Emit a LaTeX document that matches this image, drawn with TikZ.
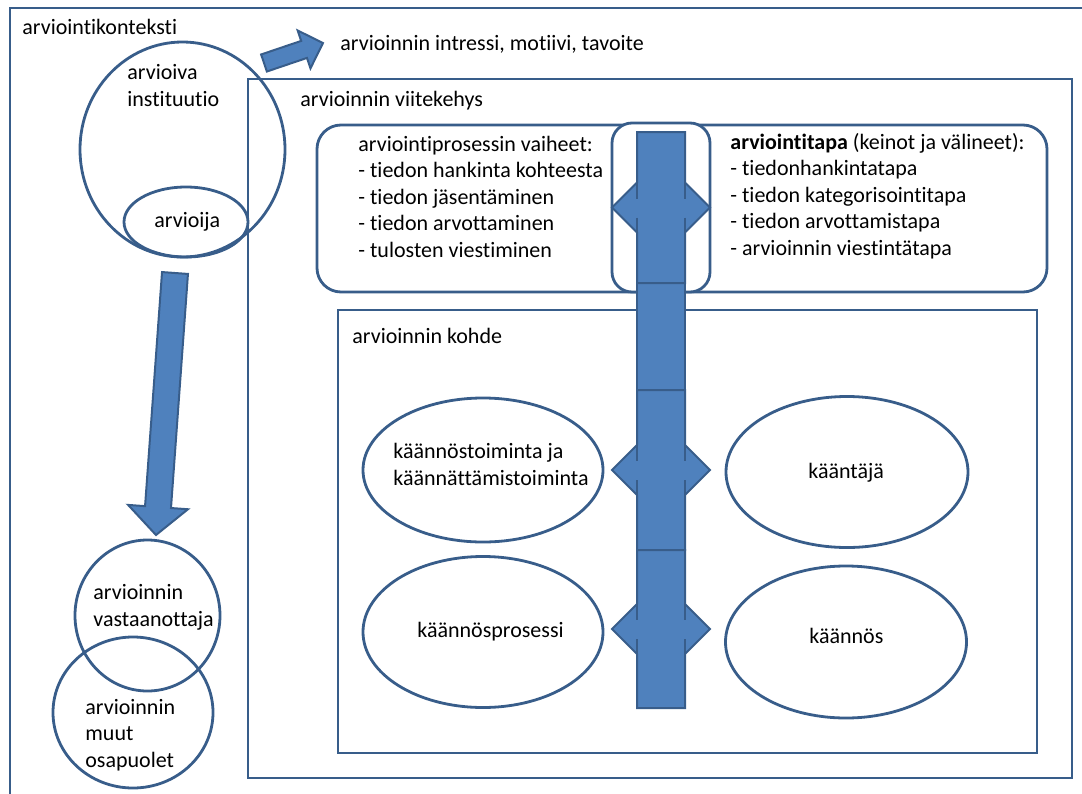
\documentclass[tikz,border=0pt]{standalone}
\usepackage{fontspec}
\setmainfont{Carlito}[Ligatures = NoCommon]
\usetikzlibrary{calc}
\usetikzlibrary{shapes.geometric}

\definecolor{lineblue}{HTML}{385D8A}
\definecolor{fillblue}{HTML}{4F81BD}

\tikzset{
  frame/.style = {draw = lineblue, line width = 1.4pt},
  ring/.style = {frame, ellipse, inner sep = 0pt},
  label/.style = {inner sep = 0pt, anchor = base west, align = left},
  blockarrow/.style = {fill = fillblue, draw = lineblue, line width = 1pt, line join = miter},
}

\begin{document}
\begin{tikzpicture}[x = 0.5pt, y = -0.5pt, font = \fontsize{11}{13.2}\selectfont]
  \useasboundingbox (0, 0) rectangle (1082, 793);
  \clip (0, 0) rectangle (1082, 793);

  % boxes
  \draw[frame] (10, 8) rectangle (1100, 810);
  \draw[frame] (248, 79) rectangle (1072, 778);
  \draw[frame, fill = white, rounded corners = 12pt] (317, 125) rectangle (1047, 292);
  \draw[frame, fill = white, rounded corners = 10pt] (612, 123) rectangle (710, 292);
  \draw[frame] (338, 310) rectangle (1037, 753);

  % circles on the left
  \node[ring, minimum width = 102.5pt, minimum height = 107.5pt] (instituutio) at (182.5, 149.5) {};
  \node[ring, minimum width = 62pt, minimum height = 35pt] (arvioija) at (186, 222) {};
  \node[ring, minimum width = 72.5pt, minimum height = 75.5pt] (vastaanottaja) at (147.5, 615.5) {};
  \node[ring, minimum width = 80pt, minimum height = 75.5pt] (muut) at (133, 712.5) {};

  % ellipses in the object box
  \node[ring, minimum width = 120pt, minimum height = 72pt] (toiminta) at (483, 470) {};
  \node[ring, minimum width = 121pt, minimum height = 75.5pt] (kaantaja) at (847, 472) {};
  \node[ring, minimum width = 120pt, minimum height = 75.5pt] (prosessi) at (483, 632) {};
  \node[ring, minimum width = 120.5pt, minimum height = 76pt] (kaannos) at (846, 642) {};

  % vertical shaft with side heads
  \draw[blockarrow] (637, 283) rectangle (685, 390);
  \foreach \ya/\yb in {132/283, 390/550, 550/708} {
    \pgfmathsetmacro{\yc}{(\ya + \yb) / 2}
    \draw[blockarrow] (637, \ya) -- (685, \ya) -- (685, \yc - 25) -- (710, \yc)
      -- (685, \yc + 25) -- (685, \yb) -- (637, \yb) -- (637, \yc + 25)
      -- (612, \yc) -- (637, \yc - 25) -- cycle;
    \draw[lineblue, line width = 1.3pt] (637, \yc - 25) -- (637, \yc - 9)
      (637, \yc + 10) -- (637, \yc + 25)
      (685, \yc - 25) -- (685, \yc - 9)
      (685, \yc + 10) -- (685, \yc + 25);
  }

  % block arrow to the aims
  \coordinate (tail1) at (264, 63);
  \coordinate (tip1) at (323, 43);
  \coordinate (neck1) at ($(tip1)!10pt!(tail1)$);
  \draw[blockarrow] ($(tail1)!4.5pt!90:(tip1)$) -- ($(neck1)!4.5pt!90:(tip1)$)
    -- ($(neck1)!10pt!90:(tip1)$) -- (tip1) -- ($(neck1)!10pt!-90:(tip1)$)
    -- ($(neck1)!4.5pt!-90:(tip1)$) -- ($(tail1)!4.5pt!-90:(tip1)$) -- cycle;

  % block arrow down to the receiver
  \coordinate (tail2) at (175, 273);
  \coordinate (tip2) at (156, 535);
  \coordinate (neck2) at ($(tip2)!14pt!(tail2)$);
  \draw[blockarrow] ($(tail2)!6.5pt!90:(tip2)$) -- ($(neck2)!6.5pt!90:(tip2)$)
    -- ($(neck2)!15pt!90:(tip2)$) -- (tip2) -- ($(neck2)!15pt!-90:(tip2)$)
    -- ($(neck2)!6.5pt!-90:(tip2)$) -- ($(tail2)!6.5pt!-90:(tip2)$) -- cycle;

  % texts (base = baseline of the last line)
  \node[label] (konteksti) at (22, 34) {arviointikonteksti};
  \node[label] (intressi) at (340, 50) {arvioinnin intressi, motiivi, tavoite};
  \node[label] (instituuttiteksti) at (127, 106) {arvioiva\\instituutio};
  \node[label] (arvioijateksti) at (154, 227) {arvioija};
  \node[label] (viitekehys) at (300, 106) {arvioinnin viitekehys};
  \node[label] (vaiheet) at (358, 257) {arviointiprosessin vaiheet:\\- tiedon hankinta kohteesta\\- tiedon jäsentäminen\\- tiedon arvottaminen\\- tulosten viestiminen};
  \node[label] (tapa) at (730, 255) {\textbf{arviointitapa} (keinot ja välineet):\\- tiedonhankintatapa\\- tiedon kategorisointitapa\\- tiedon arvottamistapa\\- arvioinnin viestintätapa};
  \node[label] (kohde) at (352, 343) {arvioinnin kohde};
  \node[label] (toimintateksti) at (393, 485) {käännöstoiminta ja\\käännättämistoiminta};
  \node[label] (kaantajateksti) at (808, 478) {kääntäjä};
  \node[label] (prosessiteksti) at (417, 637) {käännösprosessi};
  \node[label] (kaannosteksti) at (809, 643) {käännös};
  \node[label] (vastaanottajateksti) at (93, 626) {arvioinnin\\vastaanottaja};
  \node[label] (muutteksti) at (85, 767) {arvioinnin\\muut\\osapuolet};
\end{tikzpicture}
\end{document}
